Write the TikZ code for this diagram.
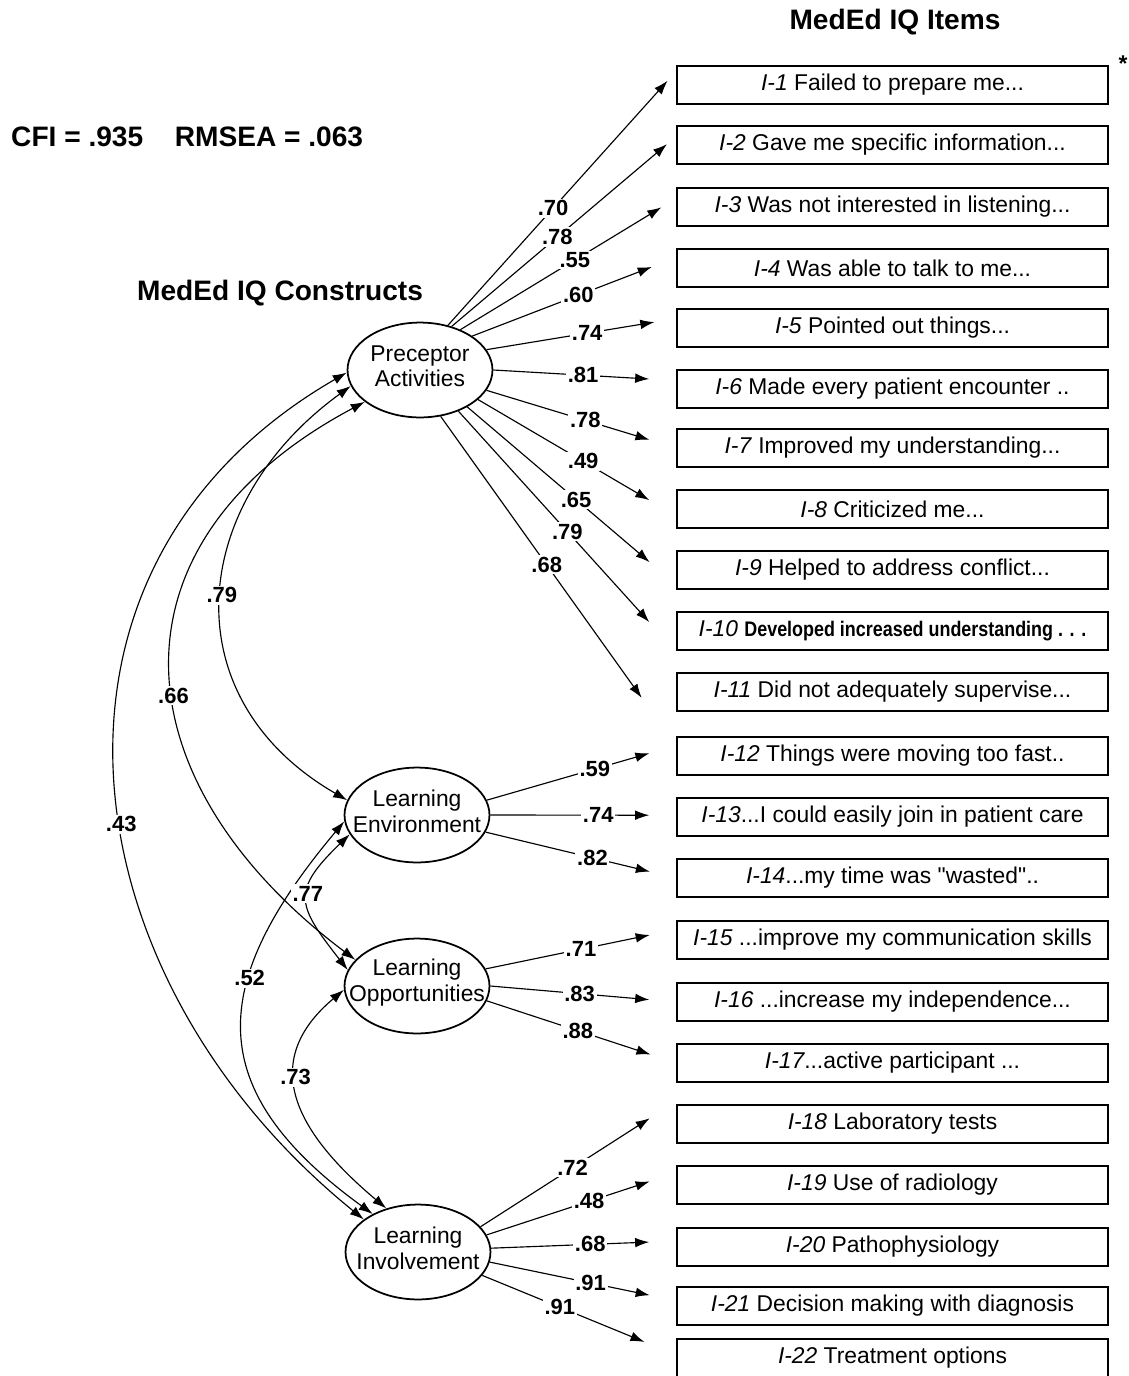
\documentclass[tikz,border=0pt]{standalone}
\usepackage{fontspec}
\setmainfont{Liberation Sans}
\usetikzlibrary{positioning,arrows.meta,shapes.geometric}
\tikzset{item/.style={draw, line width=1pt, minimum width=245pt, minimum height=22pt, inner sep=0pt, font=\fontsize{13}{15}\selectfont}}
\tikzset{construct/.style={draw, ellipse, line width=1pt, minimum width=82.5pt, minimum height=54pt, inner sep=0pt}}
\tikzset{ctext/.style={align=center, inner sep=0pt, yshift=2pt, font=\fontsize{13}{14.5}\selectfont}}
\tikzset{arr/.style={draw, line width=0.65pt, -{Latex[length=8pt,width=5.5pt]}, shorten >=15.5pt}}
\tikzset{cov/.style={draw, line width=0.65pt, {Latex[length=8pt,width=5.5pt]}-{Latex[length=8pt,width=5.5pt]}}}
\tikzset{wt/.style={fill=white, inner sep=1pt, font=\bfseries\fontsize{12.5}{14}\selectfont}}
\tikzset{hdr/.style={font=\bfseries\fontsize{16}{19}\selectfont}}

\begin{document}
\begin{tikzpicture}[x=0.02cm, y=0.02cm]
\useasboundingbox (0,0) rectangle (1129,-1376);

\node[hdr] (items) at (895,-22) {MedEd IQ Items};
\node[hdr] (cons) at (280,-293) {MedEd IQ Constructs};
\node[hdr, anchor=west] (fitidx) at (5,-137) {CFI = .935\hspace{18pt}RMSEA = .063};
\node[font=\bfseries\fontsize{13}{15}\selectfont] (star) at (1123,-64) {*};

% item boxes
\foreach \n/\y/\t in {
  1/85/{\textit{I-1} Failed to prepare me...},
  2/145/{\textit{I-2} Gave me specific information...},
  3/207/{\textit{I-3} Was not interested in listening...},
  4/268/{\textit{I-4} Was able to talk to me...},
  5/328/{\textit{I-5} Pointed out things...},
  6/389/{\textit{I-6} Made every patient encounter ..},
  7/448/{\textit{I-7} Improved my understanding...},
  8/509/{\textit{I-8} Criticized me...},
  9/570/{\textit{I-9} Helped to address conflict...},
  10/631/{\textit{I-10} \scalebox{0.85}[1]{\bfseries\fontsize{12}{14}\selectfont Developed increased understanding . . .}},
  11/692/{\textit{I-11} Did not adequately supervise...},
  12/756/{\textit{I-12} Things were moving too fast..},
  13/817/{\textit{I-13}...I could easily join in patient care},
  14/878/{\textit{I-14}...my time was \textquotedbl wasted\textquotedbl..},
  15/940/{\textit{I-15} ...improve my communication skills},
  16/1002/{\textit{I-16} ...increase my independence...},
  17/1063/{\textit{I-17}...active participant ...},
  18/1124/{\textit{I-18} Laboratory tests},
  19/1185/{\textit{I-19} Use of radiology},
  20/1247/{\textit{I-20} Pathophysiology},
  21/1306/{\textit{I-21} Decision making with diagnosis},
  22/1358/{\textit{I-22} Treatment options}}
  \node[item] (i\n) at (892.5,-\y) {\t};

% constructs
\node[construct, label={[ctext]center:{Preceptor\\Activities}}] (PA) at (420,-370) {};
\node[construct, label={[ctext]center:{Learning\\Environment}}] (LE) at (417,-815) {};
\node[construct, label={[ctext]center:{Learning\\Opportunities}}] (LO) at (417,-986) {};
\node[construct, label={[ctext]center:{Learning\\Involvement}}] (LI) at (418,-1252) {};

% loadings
\draw[arr, shorten >=7.5pt] (PA.58) -- node[wt,pos=.46]{.70} ([yshift=8pt]i1.west);
\draw[arr, shorten >=7pt] (PA.54) -- node[wt,pos=.47]{.78} ([yshift=5pt]i2.west);
\draw[arr, shorten >=10pt] (PA.45) -- node[wt,pos=.53]{.55} ([yshift=5pt]i3.west);
\draw[arr, shorten >=15pt] (PA.33) -- node[wt,pos=.52]{.60} ([yshift=6pt]i4.west);
\draw[arr, shorten >=12.7pt] (PA.17) -- node[wt,pos=.53]{.74} ([yshift=5.4pt]i5.west);
\draw[arr] (PA.0) -- node[wt,pos=.49]{.81} ([yshift=4.8pt]i6.west);
\draw[arr, shorten >=16pt] (PA.343) -- node[wt,pos=.52]{.78} (i7.west);
\draw[arr, shorten >=17.9pt] (PA.333) -- node[wt,pos=.53]{.49} ([yshift=-4pt]i8.west);
\draw[arr, shorten >=20pt] (PA.322) -- node[wt,pos=.52]{.65} ([yshift=-8.5pt]i9.west);
\draw[arr, shorten >=23pt] (PA.313) -- node[wt,pos=.5]{.79} ([yshift=-12pt]i10.west);
\draw[arr, shorten >=34pt] (PA.294) -- node[wt,pos=.45]{.68} ([yshift=-31pt]i11.west);

\draw[arr, shorten >=16pt] (LE.12) -- node[wt,pos=.57]{.59} ([yshift=6pt]i12.west);
\draw[arr] (LE.0) -- node[wt,pos=.58]{.74} ([yshift=1pt]i13.west);
\draw[arr] (LE.346) -- node[wt,pos=.56]{.82} (i14.west);

\draw[arr] (LO.14) -- node[wt,pos=.5]{.71} ([yshift=6pt]i15.west);
\draw[arr] (LO.0) -- node[wt,pos=.48]{.83} (i16.west);
\draw[arr] (LO.348) -- node[wt,pos=.48]{.88} (i17.west);

\draw[arr, shorten >=18pt] (LI.22) -- node[wt,pos=.47]{.72} ([yshift=13pt]i18.west);
\draw[arr, shorten >=16pt] (LI.14) -- node[wt,pos=.54]{.48} ([yshift=7pt]i19.west);
\draw[arr] (LI.3) -- node[wt,pos=.535]{.68} ([yshift=3.4pt]i20.west);
\draw[arr] (LI.352) -- node[wt,pos=.54]{.91} ([yshift=3pt]i21.west);
\draw[arr, shorten >=19.6pt] (LI.340) -- node[wt,pos=.4]{.91} ([yshift=1.7pt]i22.west);

% correlations
\draw[cov] (PA.182) to[out=210,in=141,looseness=1.17] node[wt,pos=.55]{.43} (LI.149);
\draw[cov] (PA.193) to[out=216,in=150,looseness=1.25] node[wt,pos=.49]{.79} (LE.168);
\draw[cov] (PA.210) to[out=208,in=143,looseness=1.37] node[wt,pos=.55]{.66} (LO.157);
\draw[cov] (LE.185) to[out=230,in=144,looseness=1.38] node[wt,pos=.36]{.52} (LI.140);
\draw[cov] (LE.196) to[out=224,in=128,looseness=1.55] node[wt,pos=.45]{.77} (LO.167);
\draw[cov] (LO.183) to[out=220,in=140,looseness=1.32] node[wt,pos=.4]{.73} (LI.126);
\end{tikzpicture}
\end{document}
